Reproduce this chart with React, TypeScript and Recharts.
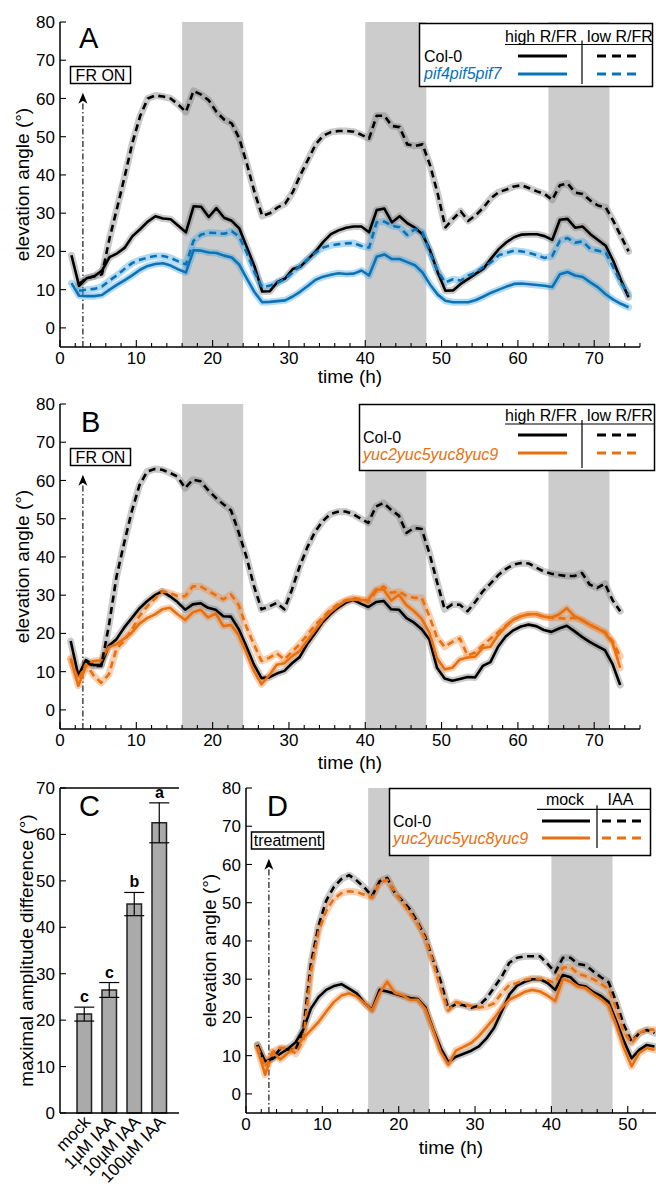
import React from "react";
import {
  ComposedChart,
  Line,
  Bar,
  ErrorBar,
  Scatter,
  XAxis,
  YAxis,
  ReferenceArea,
  ReferenceLine,
} from "recharts";

const FONT = '"Liberation Sans", Arial, Helvetica, sans-serif';
const BLUE = "#0c72b6";
const ORANGE = "#e8700f";

// ---------- panel A : Col-0 vs pif4pif5pif7 (high / low R/FR) ----------
const timesA = [
  1.5, 2.5, 3.5, 4.5, 5.5, 6.5, 7.5, 8.5, 9.5, 10.5, 11.5, 12.5, 13.5, 14.5, 15.5, 16.5, 17.5, 18.5, 19.5, 20.5,
  21.5, 22.5, 23.5, 24.5, 25.5, 26.5, 27.5, 28.5, 29.5, 30.5, 31.5, 32.5, 33.5, 34.5, 35.5, 36.5, 37.5, 38.5, 39.5, 40.5,
  41.5, 42.5, 43.5, 44.5, 45.5, 46.5, 47.5, 48.5, 49.5, 50.5, 51.5, 52.5, 53.5, 54.5, 55.5, 56.5, 57.5, 58.5, 59.5, 60.5,
  61.5, 62.5, 63.5, 64.5, 65.5, 66.5, 67.5, 68.5, 69.5, 70.5, 71.5, 72.5, 73.5, 74.5,
];
const colHighA = [
  19, 11, 13, 13.5, 15, 18.5, 19.5, 21, 24, 25.8,
  27.8, 29.2, 28.6, 28.4, 26.7, 25, 31.8, 31.7, 29, 31.3,
  28.8, 28, 26, 21, 16, 9.5, 9.6, 12, 12.9, 15.4,
  16, 18, 20, 22.5, 24.5, 25.5, 26.2, 26.5, 26.5, 25,
  30.8, 31.2, 27.6, 29.2, 27.4, 26.2, 24.5, 20.2, 14.5, 9.7,
  9.8, 11.5, 12.8, 14.2, 15.5, 18.2, 20.6, 22.4, 23.7, 24.4,
  24.5, 24.5, 24, 23, 28.3, 28.5, 26.2, 26.5, 24.5, 23,
  21.5, 17.5, 12.5, 8,
];
const colLowA = [
  null, 11.5, 13, 13.5, 14, 23.5, 31.5, 39.8, 48.5, 55.4,
  60, 60.8, 60.5, 60, 58.4, 56.5, 62, 61, 59.5, 56.5,
  54.5, 53.5, 49.5, 42.8, 35.4, 29.3, 30, 31.5, 32.5, 35.5,
  40, 44, 48, 50.3, 51.2, 51.5, 51.5, 51.3, 50.5, 49.5,
  55.5, 55.5, 52.8, 52.5, 48, 47.6, 48, 42.5, 35, 26.3,
  28.5, 30.5, 28, 29.5, 31.5, 34, 35.5, 36.2, 37, 37.3,
  36.5, 35.7, 35, 33.5, 37.3, 37.8, 35.4, 35, 33.3, 32,
  31.5, 28, 24, 20,
];
const mutHighA = [
  11.7, 8.4, 8.3, 8.3, 8.6, 10, 11.3, 12.5, 13.8, 15.2,
  16.2, 16.7, 16.9, 16.3, 15.3, 14.5, 20.3, 20.2, 19.7, 19.6,
  18.9, 18.4, 16.5, 12.8, 9.3, 6.7, 6.8, 7, 7.2, 8.2,
  9.5, 11, 12.6, 13.4, 13.9, 14.3, 14.1, 14.2, 15, 13.7,
  18.6, 19.2, 18, 18, 17.2, 16.4, 14.5, 11.3, 8.7, 7.1,
  6.7, 6.7, 6.7, 7.3, 8.2, 9.2, 10, 10.8, 11.5, 11.6,
  11.4, 11.2, 11, 10.7, 14, 14.6, 13.7, 13.3, 11.9, 10.6,
  8.8, 7.4, 6.3, 5.4,
];
const mutLowA = [
  null, 9.7, 10, 10.2, 10.8, 12.4, 13.8, 15.5, 17, 17.8,
  18.4, 18.8, 18.8, 18.3, 17.4, 16.6, 22.8, 24.4, 24.9, 24.8,
  24.6, 25.3, 23.8, 19.5, 14.5, 10.6, 11.1, 11.8, 12.8, 14.5,
  16.3, 18, 19.7, 21, 21.6, 21.9, 22.1, 22.2, 21.4, 21,
  27.6, 27.8, 26.7, 26.3, 24.3, 25.8, 25, 19.5, 14.8, 11.9,
  12.7, 12.4, 13.7, 14.5, 16, 17.2, 19, 19.6, 20.2, 20,
  19.6, 19, 18.3, 18.8, 22.8, 23.5, 22.3, 22.6, 20.6, 20.2,
  19.7, 15.8, 11.8, 8.8,
];

// ---------- panel B : Col-0 vs yuc2yuc5yuc8yuc9 (high / low R/FR) ----------
const timesB = [
  1.4, 2.4, 3.4, 4.4, 5.4, 6.4, 7.4, 8.4, 9.4, 10.4, 11.4, 12.4, 13.4, 14.4, 15.4, 16.4, 17.4, 18.4, 19.4, 20.4,
  21.4, 22.4, 23.4, 24.4, 25.4, 26.4, 27.4, 28.4, 29.4, 30.4, 31.4, 32.4, 33.4, 34.4, 35.4, 36.4, 37.4, 38.4, 39.4, 40.4,
  41.4, 42.4, 43.4, 44.4, 45.4, 46.4, 47.4, 48.4, 49.4, 50.4, 51.4, 52.4, 53.4, 54.4, 55.4, 56.4, 57.4, 58.4, 59.4, 60.4,
  61.4, 62.4, 63.4, 64.4, 65.4, 66.4, 67.4, 68.4, 69.4, 70.4, 71.4, 72.4, 73.4,
];
const colHighB = [
  18, 9, 13, 11.7, 11.8, 16.8, 18.5, 21.5, 24, 26.5,
  28.4, 30, 31, 29.7, 28.2, 26.2, 27.6, 27.9, 26.7, 26.2,
  24.5, 24.4, 21.2, 16.7, 11.9, 8.3, 8.5, 9.5, 10.2, 12.2,
  13.8, 17.2, 20, 22.9, 25, 26.7, 28, 28.8, 27.8, 26.9,
  28.2, 28.5, 26.3, 26.2, 24, 22.8, 21.1, 18.4, 11, 8.2,
  7.6, 8.1, 8.6, 8.5, 11.5, 12.5, 16.5, 19.2, 20.8, 21.8,
  22.3, 21.9, 20.9, 20.4, 21.3, 22, 20.6, 19.1, 17.8, 16.7,
  15.6, 12, 6.5,
];
const colLowB = [
  null, null, 12.5, 11.5, 11.5, 22, 34.8, 43.6, 51.9, 58.7,
  62.3, 63, 62.8, 62, 61, 58, 60.2, 59.8, 57.5, 55.5,
  53.8, 52.2, 46.5, 40.2, 32.5, 26.3, 27, 28, 26.3, 31.5,
  37.5, 42.5, 46.5, 49.3, 51.2, 51.8, 51.9, 51.2, 50, 48.9,
  53.2, 54.1, 52.3, 50.8, 46.3, 47.6, 47.3, 41, 33.5, 26.3,
  27.6, 27.5, 25.8, 28.2, 31, 33, 35.2, 36.8, 38, 38.4,
  38.3, 37.2, 36.2, 35.6, 35.3, 35, 35, 35.8, 32.8, 31.9,
  33, 28.7, 25.8,
];
const mutHighB = [
  13.5, 6.3, 11.5, 12.8, 13, 16.4, 17.2, 18.6, 20.2, 22.5,
  24, 24.9, 26.3, 26.7, 25, 23.5, 25.5, 26.2, 24.2, 25.2,
  21.9, 22.2, 19.6, 15, 10.2, 6.7, 9, 11.8, 12.2, 14,
  15.4, 18.1, 20.8, 23.4, 25.5, 27.1, 28.5, 28.9, 28.7, 28.8,
  31.5, 31.5, 28.6, 30.1, 27.4, 25.8, 23.8, 20.2, 13.5, 10.6,
  11, 13.2, 13.7, 13.9, 16.2, 16.5, 19.5, 21.8, 23.6, 24.5,
  25, 25, 24.4, 24.1, 25, 26.6, 24.5, 23.5, 22.3, 21.3,
  20.2, 17.5, 11,
];
const mutLowB = [
  13.2, 8, 12, 9, 7.1, 9.3, 16, 18, 21, 24.5,
  27, 29, 31, 30.6, 29.8, 29.7, 32.3, 32.3, 31.2, 30,
  28.9, 30.2, 27.5, 21.8, 17.2, 12.8, 13.6, 14.8, 13.2, 15.2,
  17.2, 19.6, 22.2, 24.1, 26.2, 27.6, 28.6, 29.3, 29, 28.2,
  31, 32.3, 30.6, 31, 29.8, 29.3, 29.3, 24.5, 18.9, 16.5,
  17.8, 18.7, 14.2, 15, 16.9, 18.6, 20.3, 22, 23.6, 24.5,
  25, 25, 24.3, 24.1, 24, 23.8, 24.1, 23.5, 22.3, 21.3,
  20.4, 18, 14,
];

// ---------- panel C : maximal amplitude difference ----------
const doses = ["mock", "1µM IAA", "10µM IAA", "100µM IAA"];
const ampMean = [21.3, 26.5, 45, 62.5];
const ampErr = [1.5, 1.6, 2.5, 4.3];
const ampLetters = ["c", "c", "b", "a"];

// ---------- panel D : Col-0 vs yuc2yuc5yuc8yuc9 (mock / IAA) ----------
const timesD = [
  1.5, 2.5, 3.5, 4.5, 5.5, 6.5, 7.5, 8.5, 9.5, 10.5, 11.5, 12.5, 13.5, 14.5, 15.5, 16.5, 17.5, 18.5, 19.5, 20.5,
  21.5, 22.5, 23.5, 24.5, 25.5, 26.5, 27.5, 28.5, 29.5, 30.5, 31.5, 32.5, 33.5, 34.5, 35.5, 36.5, 37.5, 38.5, 39.5, 40.5,
  41.5, 42.5, 43.5, 44.5, 45.5, 46.5, 47.5, 48.5, 49.5, 50.5, 51.5, 52.5, 53.5,
];
const colMockD = [
  12.8, 8.5, 9.2, 10.5, 11.8, 13.5, 16.8, 22.3, 25.3, 27.2,
  28.2, 28.7, 27.5, 26.3, 23.8, 22, 27.2, 26.8, 26.2, 25.6,
  25.1, 24.8, 22.6, 17, 12, 8.3, 9.7, 10.5, 11.3, 12.4,
  14.5, 17.3, 21.6, 26, 28.3, 29.3, 30, 30, 29, 27.2,
  31.1, 30.5, 28.5, 28.1, 26.6, 25.6, 24, 19, 13.8, 9.3,
  11.5, 12.8, 12.4,
];
const colIaaD = [
  12.8, 8, 9.5, 11.8, 11.6, 11.5, 16.8, 34, 44, 50.5,
  54.1, 56.2, 57.2, 55.8, 54, 51.7, 55.6, 56.5, 52.5, 50.5,
  48.2, 44.8, 41, 35, 29.5, 22.3, 23.5, 23.2, 22.5, 23.1,
  25, 27.8, 30.7, 34.3, 35.6, 36, 36, 36, 34, 31.8,
  35.6, 35.6, 34, 33.6, 32, 30.5, 29.2, 24, 18, 13.7,
  15.9, 16.7, 15.9,
];
const mutMockD = [
  12, 5, 11, 9, 10.7, 12.3, 14.6, 16.7, 18.8, 21.5,
  24, 25.7, 26.3, 25.5, 23.8, 21.8, 26.4, 29.3, 26.4, 25.8,
  24.6, 24.6, 22.2, 16.8, 11, 7.6, 11.3, 12.3, 13.3, 15.1,
  17.4, 19.8, 22.5, 24.7, 25.6, 26.7, 27.2, 26.8, 25.7, 24.3,
  30.1, 29.3, 28.1, 27.7, 26.1, 24.8, 23.1, 18, 12, 7.2,
  10.7, 12, 11.5,
];
const mutIaaD = [
  12.4, 7, 11, 12, 12, 10.5, 14, 32, 42.5, 47.8,
  51, 52.5, 53, 52.8, 52.1, 51.3, 55.2, 56, 52.8, 50,
  47.3, 44.4, 40.5, 34.5, 27.5, 21.8, 24, 23.4, 23, 22.6,
  22.8, 23.7, 26.4, 28.5, 29, 29.8, 30.2, 30.1, 29.7, 29,
  33, 33.2, 31.4, 30.8, 30, 28.8, 27.3, 22.3, 16.3, 13.3,
  15.9, 16.8, 16.8,
];

const angleTicks = [0, 10, 20, 30, 40, 50, 60, 70, 80];
const timeTicks76 = [0, 2, 4, 6, 8, 10, 12, 14, 16, 18, 20, 22, 24, 26, 28, 30, 32, 34, 36, 38, 40, 42, 44, 46, 48, 50, 52, 54, 56, 58, 60, 62, 64, 66, 68, 70, 72, 74, 76];
const timeTicks52 = [0, 2, 4, 6, 8, 10, 12, 14, 16, 18, 20, 22, 24, 26, 28, 30, 32, 34, 36, 38, 40, 42, 44, 46, 48, 50, 52];
const ampTicks = [0, 10, 20, 30, 40, 50, 60, 70];

const rowsA = timesA.map((t, i) => ({ t, h1: colHighA[i], l1: colLowA[i], h2: mutHighA[i], l2: mutLowA[i] }));
const rowsB = timesB.map((t, i) => ({ t, h1: colHighB[i], l1: colLowB[i], h2: mutHighB[i], l2: mutLowB[i] }));
const rowsD = timesD.map((t, i) => ({ t, h1: colMockD[i], l1: colIaaD[i], h2: mutMockD[i], l2: mutIaaD[i] }));
const rowsC = doses.map((name, i) => ({ name, mean: ampMean[i], err: ampErr[i], top: ampMean[i] + ampErr[i], letter: ampLetters[i] }));

const TimeTick = (props: any) => {
  const { x, y, payload } = props;
  const major = payload.value % 10 === 0;
  return (
    <g>
      <line x1={x} x2={x} y1={y} y2={y - (major ? 7 : 4)} stroke="#000" strokeWidth={1.1} />
      {major && (
        <text x={x} y={y + 17} textAnchor="middle" fontSize={17} fill="#000" fontFamily={FONT}>
          {payload.value}
        </text>
      )}
    </g>
  );
};

const DoseTick = (props: any) => {
  const { x, y, payload } = props;
  const ax = x + 7;
  const ay = y + 10;
  return (
    <text x={ax} y={ay} transform={`rotate(-46 ${ax} ${ay})`} textAnchor="end" fontSize={17} fill="#000" fontFamily={FONT}>
      {payload.value}
    </text>
  );
};

const ArrowShape = (p: any) => {
  const { x1, y1, y2 } = p;
  const tip = Math.min(y1, y2);
  const base = Math.max(y1, y2);
  return (
    <g>
      <line x1={x1} x2={x1} y1={base} y2={tip + 7} stroke="#000" strokeWidth={1.1} strokeDasharray="6 2.5 1.5 2.5" />
      <path d={`M${x1 - 4.5},${tip + 11} L${x1},${tip} L${x1 + 4.5},${tip + 11} L${x1},${tip + 8} Z`} fill="#000" />
    </g>
  );
};

const LetterShape = (p: any) => (
  <text x={p.cx} y={p.cy - 5} textAnchor="middle" fontSize={16} fontWeight="bold" fill="#000" fontFamily={FONT}>
    {p.payload.letter}
  </text>
);

const tickStyle = { fontSize: 17, fill: "#000", fontFamily: FONT };
const titleStyle = { fontSize: 19, fill: "#000", fontFamily: FONT };

function seriesLines(mutColor: string, mutBand: string) {
  const band = { strokeWidth: 7, strokeOpacity: 0.4, dot: false, activeDot: false, isAnimationActive: false, strokeLinejoin: "round" as const, strokeLinecap: "round" as const, legendType: "none" as const };
  const main = { strokeWidth: 2.6, dot: false, activeDot: false, isAnimationActive: false, strokeLinejoin: "round" as const };
  return [
    <Line key="b1" dataKey="l1" stroke="#7a7a7a" {...band} />,
    <Line key="b2" dataKey="h1" stroke="#7a7a7a" {...band} />,
    <Line key="b3" dataKey="l2" stroke={mutBand} {...band} />,
    <Line key="b4" dataKey="h2" stroke={mutBand} {...band} />,
    <Line key="m1" dataKey="h1" stroke="#000" {...main} />,
    <Line key="m2" dataKey="h2" stroke={mutColor} {...main} />,
    <Line key="m3" dataKey="l1" stroke="#000" strokeDasharray="7 4.5" {...main} />,
    <Line key="m4" dataKey="l2" stroke={mutColor} strokeDasharray="7 4.5" {...main} />,
  ];
}

function TimePanel(props: {
  data: any[];
  width: number;
  height: number;
  top: number;
  right: number;
  xMax: number;
  ticks: number[];
  xAxisHeight: number;
  titleOffset: number;
  yTitleOffset: number;
  shades: number[][];
  mutColor: string;
  mutBand: string;
}) {
  const p = props;
  return (
    <ComposedChart width={p.width} height={p.height} data={p.data} margin={{ top: p.top, right: p.right, bottom: 0, left: 0 }}>
      {p.shades.map(([a, b]) => (
        <ReferenceArea key={a} x1={a} x2={b} fill="#cccccc" fillOpacity={1} stroke="none" ifOverflow="visible" />
      ))}
      <XAxis
        type="number"
        dataKey="t"
        domain={[0, p.xMax]}
        ticks={p.ticks}
        interval={0}
        allowDataOverflow
        height={p.xAxisHeight}
        tickSize={0}
        tickMargin={0}
        tickLine={false}
        tick={<TimeTick />}
        axisLine={{ stroke: "#000", strokeWidth: 1.5 }}
        label={{ value: "time (h)", position: "insideBottom", offset: p.titleOffset, style: titleStyle }}
      />
      <YAxis
        type="number"
        domain={[-5, 80]}
        ticks={angleTicks}
        interval={0}
        allowDataOverflow
        width={60}
        tickSize={-6}
        tickMargin={11}
        tick={tickStyle}
        tickLine={{ stroke: "#000", strokeWidth: 1.1 }}
        axisLine={{ stroke: "#000", strokeWidth: 1.5 }}
        label={{ value: "elevation angle (°)", angle: -90, position: "insideLeft", offset: p.yTitleOffset, style: { ...titleStyle, textAnchor: "middle" } }}
      />
      <ReferenceLine segment={[{ x: 3, y: -5 }, { x: 3, y: 61.5 }]} shape={ArrowShape} ifOverflow="visible" />
      {seriesLines(p.mutColor, p.mutBand)}
    </ComposedChart>
  );
}

function LegendBox(props: {
  x: number; y: number; w: number; h: number;
  heads: string[]; headX: number[]; headY: number;
  ulFrom: number; ulY: number; divX: number; divTo: number;
  labelX: number; labelY: number[]; lineY: number[];
  solid: number[]; dashed: number[];
  mutLabel: string; mutColor: string;
}) {
  const p = props;
  const colors = ["#000", p.mutColor];
  return (
    <g fontFamily={FONT} fontSize={16}>
      <rect x={p.x} y={p.y} width={p.w} height={p.h} fill="#fff" stroke="#000" strokeWidth={1.5} />
      <text x={p.headX[0]} y={p.headY} textAnchor="middle">{p.heads[0]}</text>
      <text x={p.headX[1]} y={p.headY} textAnchor="middle">{p.heads[1]}</text>
      <line x1={p.ulFrom} x2={p.x + p.w} y1={p.ulY} y2={p.ulY} stroke="#000" strokeWidth={1.2} />
      <line x1={p.divX} x2={p.divX} y1={p.ulY - 4} y2={p.divTo} stroke="#000" strokeWidth={1.2} />
      <text x={p.labelX} y={p.labelY[0]} fill="#000">Col-0</text>
      <text x={p.labelX} y={p.labelY[1]} fill={p.mutColor} fontStyle="italic">{p.mutLabel}</text>
      {colors.map((c, i) => (
        <g key={i}>
          <line x1={p.solid[0]} x2={p.solid[1]} y1={p.lineY[i]} y2={p.lineY[i]} stroke={c} strokeWidth={3} />
          <line x1={p.dashed[0]} x2={p.dashed[1]} y1={p.lineY[i]} y2={p.lineY[i]} stroke={c} strokeWidth={3} strokeDasharray="9 6" />
        </g>
      ))}
    </g>
  );
}

function TagBox({ x, y, w, label }: { x: number; y: number; w: number; label: string }) {
  return (
    <g fontFamily={FONT} fontSize={16}>
      <rect x={x} y={y} width={w} height={17} fill="#fff" stroke="#000" strokeWidth={1.5} />
      <text x={x + w / 2} y={y + 14} textAnchor="middle">{label}</text>
    </g>
  );
}

export default function App() {
  return (
    <div style={{ position: "absolute", left: 0, top: 0, width: 656, height: 1197, background: "#fff", overflow: "hidden", fontFamily: FONT }}>
      <div style={{ position: "absolute", left: 0, top: 0 }}>
        <TimePanel data={rowsA} width={656} height={392} top={22} right={16} xMax={76} ticks={timeTicks76} xAxisHeight={45} titleOffset={9} yTitleOffset={22}
          shades={[[16, 24], [40, 48], [64, 72]]} mutColor={BLUE} mutBand="#3ea6e0" />
      </div>
      <div style={{ position: "absolute", left: 0, top: 385 }}>
        <TimePanel data={rowsB} width={656} height={392} top={19} right={16} xMax={76} ticks={timeTicks76} xAxisHeight={48} titleOffset={8} yTitleOffset={22}
          shades={[[16, 24], [40, 48], [64, 72]]} mutColor={ORANGE} mutBand="#f08a3c" />
      </div>
      <div style={{ position: "absolute", left: 0, top: 770 }}>
        <ComposedChart width={190} height={427} data={rowsC} margin={{ top: 18, right: 11, bottom: 0, left: 0 }}>
          <XAxis dataKey="name" type="category" padding={{ left: 12, right: 7 }} interval={0} height={84} tickSize={0} tickMargin={0} tickLine={false}
            tick={<DoseTick />} axisLine={{ stroke: "#000", strokeWidth: 1.5 }} />
          <YAxis type="number" domain={[0, 70]} ticks={ampTicks} interval={0} width={60} tickSize={-6} tickMargin={11} tick={tickStyle}
            tickLine={{ stroke: "#000", strokeWidth: 1.1 }} axisLine={{ stroke: "#000", strokeWidth: 1.5 }}
            label={{ value: "maximal amplitude difference (°)", angle: -90, position: "insideLeft", offset: 26, style: { ...titleStyle, textAnchor: "middle" } }} />
          <YAxis yAxisId="r" orientation="right" type="number" domain={[0, 70]} width={0} tick={false} tickLine={false} axisLine={{ stroke: "#000", strokeWidth: 1.5 }} />
          <ReferenceLine y={70} stroke="#000" strokeWidth={1.5} ifOverflow="visible" />
          <Bar dataKey="mean" barSize={14.5} fill="#aaaaaa" stroke="#222" strokeWidth={1.5} isAnimationActive={false}>
            <ErrorBar dataKey="err" width={10} stroke="#000" strokeWidth={1.2} />
          </Bar>
          <Scatter dataKey="top" shape={LetterShape} isAnimationActive={false} />
        </ComposedChart>
      </div>
      <div style={{ position: "absolute", left: 186, top: 770 }}>
        <TimePanel data={rowsD} width={470} height={427} top={18} right={0} xMax={53.7} ticks={timeTicks52} xAxisHeight={84} titleOffset={43} yTitleOffset={23}
          shades={[[16, 24], [40, 48]]} mutColor={ORANGE} mutBand="#f08a3c" />
      </div>
      <svg width={656} height={1197} style={{ position: "absolute", left: 0, top: 0, pointerEvents: "none" }}>
        <g fontFamily={FONT} fontSize={29} fill="#000">
          <text x={79} y={48}>A</text>
          <text x={81} y={432}>B</text>
          <text x={79} y={816}>C</text>
          <text x={267} y={816}>D</text>
        </g>
        <TagBox x={70.5} y={66.5} w={60} label="FR ON" />
        <TagBox x={70.5} y={448.5} w={60} label="FR ON" />
        <TagBox x={251.5} y={832} w={72} label="treatment" />
        <LegendBox x={419.5} y={23.5} w={233} h={63} heads={["high R/FR", "low R/FR"]} headX={[541, 620]} headY={42}
          ulFrom={505} ulY={44.5} divX={582} divTo={84} labelX={424} labelY={[62, 79]} lineY={[56, 74]}
          solid={[518, 567]} dashed={[597, 641]} mutLabel="pif4pif5pif7" mutColor={BLUE} />
        <LegendBox x={359.5} y={404.5} w={295} h={66} heads={["high R/FR", "low R/FR"]} headX={[541, 620]} headY={421}
          ulFrom={505} ulY={424} divX={582} divTo={468} labelX={363} labelY={[443, 460]} lineY={[435, 453]}
          solid={[518, 567]} dashed={[597, 641]} mutLabel="yuc2yuc5yuc8yuc9" mutColor={ORANGE} />
        <LegendBox x={389.5} y={788.5} w={261} h={67} heads={["mock", "IAA"]} headX={[565, 620.5]} headY={805}
          ulFrom={537} ulY={809.3} divX={597} divTo={848} labelX={393} labelY={[827, 844]} lineY={[821, 838]}
          solid={[542, 590]} dashed={[602, 645]} mutLabel="yuc2yuc5yuc8yuc9" mutColor={ORANGE} />
      </svg>
    </div>
  );
}
